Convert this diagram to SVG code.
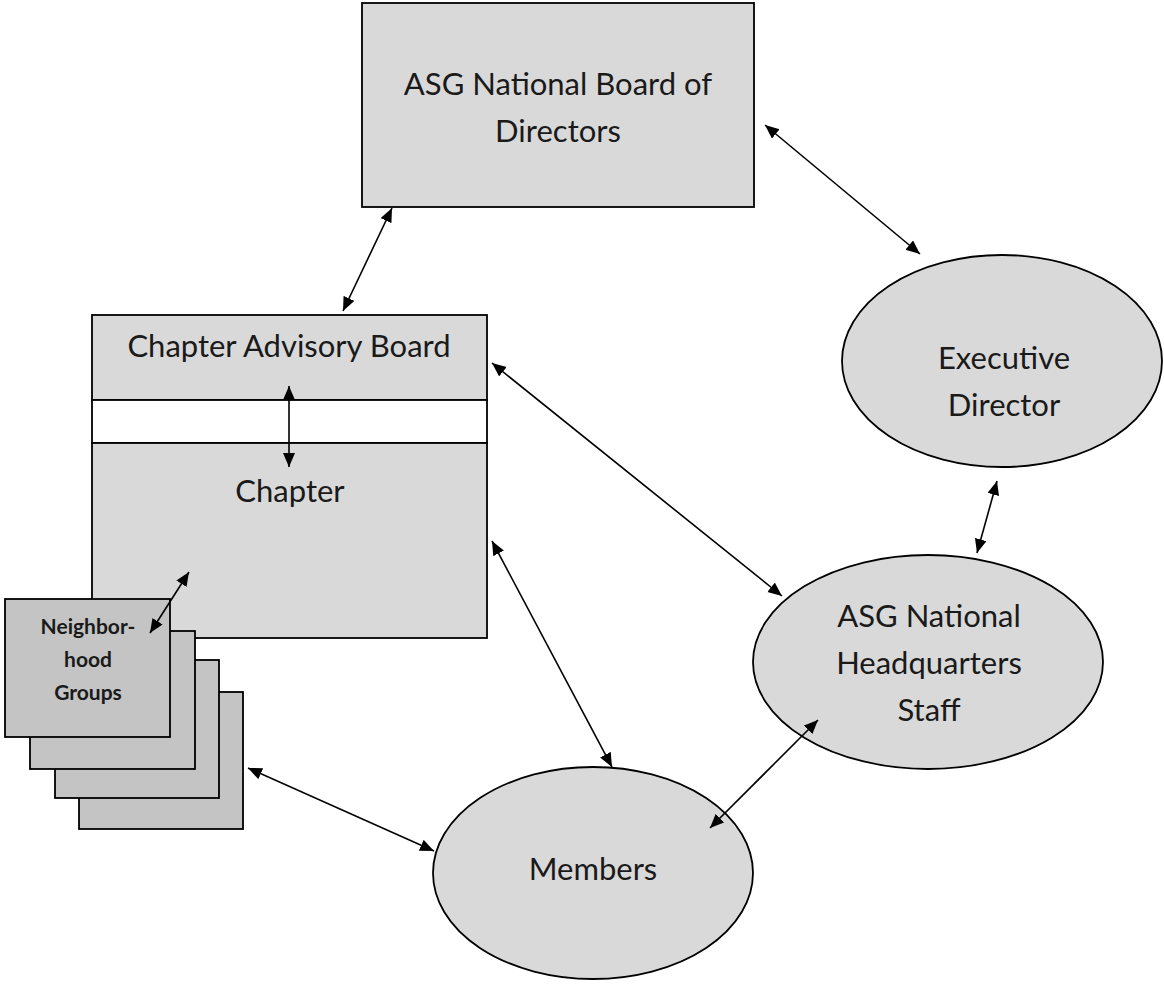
<svg xmlns="http://www.w3.org/2000/svg" width="1164" height="984" viewBox="0 0 1164 984">
<style>
.box{fill:#d9d9d9;stroke:#000;stroke-width:1.8}
.white{fill:#ffffff;stroke:#000;stroke-width:1.8}
.stack{fill:#c4c4c4;stroke:#000;stroke-width:1.8}
.lbl{font-family:Lato,"Liberation Sans",sans-serif;font-size:31px;fill:#1a1a1a;text-anchor:middle}
.small{font-family:Lato,"Liberation Sans",sans-serif;font-size:21px;font-weight:bold;fill:#1a1a1a;text-anchor:middle}
.conn{stroke:#000;stroke-width:1.6;fill:none;marker-start:url(#ah);marker-end:url(#ah)}
</style>
<defs>
<marker id="ah" markerUnits="userSpaceOnUse" markerWidth="15" markerHeight="13" refX="14" refY="6" orient="auto-start-reverse" viewBox="0 0 15 13">
<path d="M0,0 L14,6 L0,12 z" fill="#000"/>
</marker>
</defs>
<rect width="1164" height="984" fill="#ffffff"/>

<g id="board">
<rect class="box" x="362" y="3" width="392" height="204"/>
<text class="lbl" x="558" y="95">ASG National Board of</text>
<text class="lbl" x="558" y="142">Directors</text>
</g>

<g id="exec">
<ellipse class="box" cx="1002" cy="361" rx="160" ry="106"/>
<text class="lbl" x="1004" y="369">Executive</text>
<text class="lbl" x="1004" y="416">Director</text>
</g>

<g id="hq">
<ellipse class="box" cx="928" cy="662" rx="175" ry="107"/>
<text class="lbl" x="929" y="627">ASG National</text>
<text class="lbl" x="929" y="674">Headquarters</text>
<text class="lbl" x="929" y="721">Staff</text>
</g>

<g id="members">
<ellipse class="box" cx="593" cy="873" rx="160" ry="106"/>
<text class="lbl" x="593" y="880">Members</text>
</g>

<g id="chapter-advisory">
<rect class="box" x="92" y="315" width="395" height="85"/>
<text class="lbl" x="289" y="357">Chapter Advisory Board</text>
</g>
<g id="gap">
<rect class="white" x="92" y="400" width="395" height="43"/>
</g>
<g id="chapter">
<rect class="box" x="92" y="443" width="395" height="195"/>
<text class="lbl" x="290" y="502">Chapter</text>
</g>

<g id="neighborhood-groups">
<rect class="stack" x="79" y="692" width="164" height="137"/>
<rect class="stack" x="55" y="660" width="164" height="138"/>
<rect class="stack" x="30" y="631" width="165" height="138"/>
<rect class="stack" x="5" y="599" width="165" height="138"/>
<text class="small" x="88" y="634">Neighbor-</text>
<text class="small" x="88" y="667">hood</text>
<text class="small" x="88" y="700">Groups</text>
</g>

<g id="connectors">
<line class="conn" x1="392" y1="208" x2="343" y2="311"/>
<line class="conn" x1="765" y1="125" x2="920" y2="254"/>
<line class="conn" x1="289" y1="386" x2="289" y2="467"/>
<line class="conn" x1="492" y1="363" x2="782" y2="596"/>
<line class="conn" x1="492" y1="541" x2="612" y2="767"/>
<line class="conn" x1="997" y1="481" x2="977" y2="553"/>
<line class="conn" x1="818" y1="720" x2="710" y2="828"/>
<line class="conn" x1="248" y1="768" x2="434" y2="851"/>
<line class="conn" x1="150" y1="633" x2="189" y2="572"/>
</g>
</svg>
